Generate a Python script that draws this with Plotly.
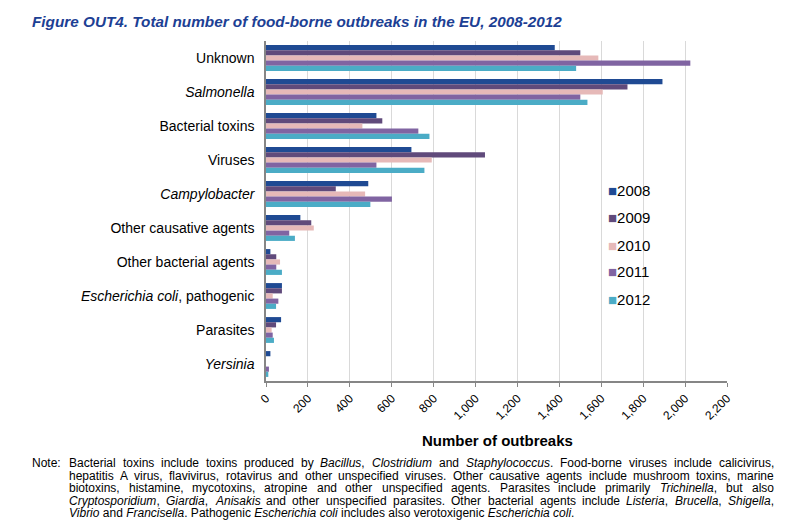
import re
import plotly.graph_objects as go

categories = ["Unknown", "Salmonella", "Bacterial toxins", "Viruses", "Campylobacter",
              "Other causative agents", "Other bacterial agents",
              "Escherichia coli, pathogenic", "Parasites", "Yersinia"]
tick_labels = ["Unknown", "<i>Salmonella</i>", "Bacterial toxins", "Viruses", "<i>Campylobacter</i>",
               "Other causative agents", "Other bacterial agents",
               "<i>Escherichia coli</i>, pathogenic", "Parasites", "<i>Yersinia</i>"]
years = ["2008", "2009", "2010", "2011", "2012"]
v2008 = [1378, 1892, 527, 694, 488, 164, 21, 76, 72, 21]
v2009 = [1500, 1725, 555, 1045, 333, 216, 49, 76, 48, 0]
v2010 = [1586, 1607, 460, 791, 473, 228, 67, 32, 27, 0]
v2011 = [2025, 1500, 727, 527, 601, 111, 49, 59, 32, 14]
v2012 = [1480, 1534, 780, 756, 498, 138, 76, 48, 38, 11]
series = [v2008, v2009, v2010, v2011, v2012]
colors = ["#1F4A93", "#604A7B", "#E6B9B8", "#8064A2", "#4BACC6"]
x_ticks = list(range(0, 2201, 200))

title_text = "Figure OUT4. Total number of food-borne outbreaks in the EU, 2008-2012"
x_title = "Number of outbreaks"
note_label = "Note:"
note_lines = [
    "Bacterial toxins include toxins produced by <i>Bacillus</i>, <i>Clostridium</i> and <i>Staphylococcus</i>. Food-borne viruses include calicivirus,",
    "hepatitis A virus, flavivirus, rotavirus and other unspecified viruses. Other causative agents include mushroom toxins, marine",
    "biotoxins, histamine, mycotoxins, atropine and other unspecified agents. Parasites include primarily <i>Trichinella</i>, but also",
    "<i>Cryptosporidium</i>, <i>Giardia</i>, <i>Anisakis</i> and other unspecified parasites. Other bacterial agents include <i>Listeria</i>, <i>Brucella</i>, <i>Shigella</i>,",
    "<i>Vibrio</i> and <i>Francisella</i>. Pathogenic <i>Escherichia coli</i> includes also verotoxigenic <i>Escherichia coli</i>.",
]

fig = go.Figure()
for yr, vals, col in zip(years, series, colors):
    fig.add_trace(go.Bar(y=categories, x=vals, name=yr, orientation="h",
                         marker=dict(color=col, line=dict(width=0))))

L, R, T, B = 266, 727, 41, 381
W, H = 786, 529
FONT = "Liberation Sans, Arial, sans-serif"
fig.update_layout(
    width=W, height=H,
    margin=dict(l=L, r=W - R, t=T, b=H - B, autoexpand=False),
    plot_bgcolor="white", paper_bgcolor="white",
    barmode="group", bargap=0.24, bargroupgap=0,
    font=dict(family=FONT, size=13, color="#000000"),
    showlegend=False,
    title=dict(text="<b><i>" + title_text + "</i></b>",
               x=32 / W, xanchor="left", xref="container", y=1 - 21.7 / H, yanchor="middle",
               yref="container", font=dict(size=15.3, color="#1C4094")),
)
fig.update_xaxes(range=[0, 2200], tickvals=x_ticks, tickformat=",d", tickangle=-45,
                 showgrid=True, gridcolor="#D9D9D9", gridwidth=1.3,
                 showline=True, linecolor="#868686", linewidth=1.5,
                 ticks="outside", ticklen=4, tickcolor="#868686",
                 tickfont=dict(size=12), zeroline=False, automargin=False)
fig.update_yaxes(categoryorder="array", categoryarray=categories, autorange="reversed",
                 tickvals=categories, ticktext=tick_labels,
                 showline=True, linecolor="#868686", linewidth=1.5, showgrid=False,
                 ticks="", ticklabelstandoff=7, tickfont=dict(size=14), automargin=False)


def px_x(p):
    return (p - L) / (R - L)


def px_y(p):
    return (B - p) / (B - T)


fig.add_annotation(text="<b>" + x_title + "</b>", x=px_x(497.5), y=px_y(440), xref="paper", yref="paper",
                   showarrow=False, xanchor="center", yanchor="middle", font=dict(size=15))

# legend drawn as text items (small squares next to the year)
leg_y = [190, 217.3, 245, 271.7, 299.3]
for yr, col, yy in zip(years, colors, leg_y):
    fig.add_annotation(text="<span style='color:%s'>■</span>%s" % (col, yr),
                       x=px_x(606), y=px_y(yy), xref="paper", yref="paper", showarrow=False,
                       xanchor="left", yanchor="middle", font=dict(size=15, family=FONT))

# Note, justified like the reference (Arial metrics, Liberation Sans is metric compatible)
AW = {" ": 278, ",": 278, ".": 278, "-": 333, ":": 278, "0": 556, "1": 556, "2": 556}
for ch, w in zip("abcdefghijklmnopqrstuvwxyz",
                 [556, 556, 500, 556, 556, 278, 556, 556, 222, 222, 500, 222, 833, 556, 556, 556, 556,
                  333, 500, 278, 556, 500, 722, 500, 500, 500]):
    AW[ch] = w
for ch, w in zip("ABCDEFGHIJKLMNOPQRSTUVWXYZ",
                 [667, 667, 722, 722, 667, 611, 778, 722, 278, 500, 667, 556, 833, 722, 778, 667, 778,
                  722, 667, 611, 722, 667, 944, 667, 667, 611]):
    AW[ch] = w

NOTE_SIZE = 12


def text_width(s, size):
    plain = re.sub(r"<[^>]+>", "", s)
    return sum(AW.get(c, 556) for c in plain) * size / 1000.0


note_font = dict(size=NOTE_SIZE, family=FONT)
NX0, NX1, NY0, NDY = 68, 773, 463.3, 12.5
fig.add_annotation(text=note_label, x=px_x(31), y=px_y(NY0), xref="paper", yref="paper", showarrow=False,
                   xanchor="left", yanchor="middle", font=note_font, borderpad=0)
for i, line in enumerate(note_lines):
    yy = px_y(NY0 + NDY * i)
    if i == len(note_lines) - 1:
        fig.add_annotation(text=line, x=px_x(NX0), y=yy, xref="paper", yref="paper", showarrow=False,
                           xanchor="left", yanchor="middle", font=note_font, borderpad=0)
        continue
    words = line.split(" ")
    widths = [text_width(w, NOTE_SIZE) for w in words]
    gap = (NX1 - NX0 - sum(widths)) / (len(words) - 1)
    xpos = NX0
    for w, ww in zip(words, widths):
        fig.add_annotation(text=w, x=px_x(xpos), y=yy, xref="paper", yref="paper", showarrow=False,
                           xanchor="left", yanchor="middle", font=note_font, borderpad=0)
        xpos += ww + gap

fig.write_html("out.html", config={"displayModeBar": False},
               post_script="document.body.style.margin='0';")
